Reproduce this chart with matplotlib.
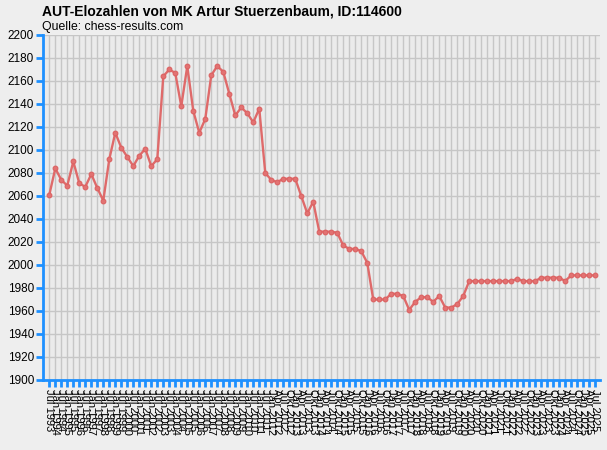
import matplotlib
matplotlib.use("Agg")
import matplotlib.pyplot as plt

title = "AUT-Elozahlen von MK Artur Stuerzenbaum, ID:114600"
subtitle = "Quelle: chess-results.com"

# Rating periods: semi-annual Jul 1993 .. Jan 2012, then quarterly Apr 2012 .. Jul 2025
semi_labels = []
for y in range(1993, 2012):
    semi_labels.append(f"Jul {y}")
    semi_labels.append(f"Jan {y+1}")
semi_labels = semi_labels[:38]
quarter_months = ["Jan", "Apr", "Jul", "Okt"]
quarter_labels = []
for y in range(2012, 2026):
    for m in quarter_months:
        quarter_labels.append(f"{m} {y}")
quarter_labels = quarter_labels[1:1 + 54]
labels = semi_labels + quarter_labels

ratings = [
    2061, 2084, 2074, 2069, 2090, 2071, 2068, 2079, 2067, 2056,
    2092, 2115, 2102, 2094, 2086, 2095, 2101, 2086, 2092, 2164,
    2170, 2167, 2138, 2173, 2134, 2115, 2127, 2165, 2173, 2168,
    2149, 2130, 2137, 2132, 2124, 2136, 2080, 2074, 2072, 2075,
    2075, 2075, 2060, 2045, 2055, 2029, 2029, 2029, 2028, 2017,
    2014, 2014, 2012, 2002, 1970, 1970, 1970, 1975, 1975, 1973,
    1961, 1968, 1972, 1972, 1968, 1973, 1963, 1963, 1966, 1973,
    1986, 1986, 1986, 1986, 1986, 1986, 1986, 1986, 1988, 1986,
    1986, 1986, 1989, 1989, 1989, 1989, 1986, 1991, 1991, 1991,
    1991, 1991,
]

yticks = list(range(1900, 2201, 20))

bg = "#EEEEEE"
blue = "#1E90FF"
fig = plt.figure(figsize=(6.07, 4.5), dpi=100, facecolor=bg)
ax = fig.add_axes([43 / 607, 1 - 380 / 450, (600 - 43) / 607, (380 - 35) / 450])
ax.set_facecolor("#EBEBEB")

x = list(range(len(ratings)))
ax.plot(x, ratings, color="#DF6A6A", lw=1.7, marker="o", ms=3.4,
        mfc="#E27272", mec="#DC6262", mew=0.8, zorder=3)

ax.set_xlim(-1.05, len(ratings) - 0.2)
ax.set_ylim(1900, 2200)
ax.set_yticks(yticks)
ax.set_yticklabels([str(v) for v in yticks], fontsize=8.5, family="Liberation Sans")
ax.set_xticks(x)
ax.set_xticklabels(labels, rotation=-90, fontsize=8, family="Liberation Sans",
                   va="top", ha="center")

ax.grid(True, color="#C6C6C6", lw=1.0, zorder=0)
ax.set_axisbelow(True)
for s in ["top", "right"]:
    ax.spines[s].set_visible(False)
for s in ["left", "bottom"]:
    ax.spines[s].set_color(blue)
    ax.spines[s].set_linewidth(2)
ax.tick_params(axis="both", colors=blue, length=5, width=2, direction="out")
ax.tick_params(axis="both", labelcolor="black", pad=1.5)

fig.text(42 / 607, 1 - 5 / 450, title, fontsize=10, fontweight="bold",
         family="Liberation Sans", va="top", ha="left")
fig.text(42 / 607, 1 - 21 / 450, subtitle, fontsize=8.8, family="Liberation Sans",
         va="top", ha="left")

fig.savefig("out.png", dpi=100, facecolor=bg)
